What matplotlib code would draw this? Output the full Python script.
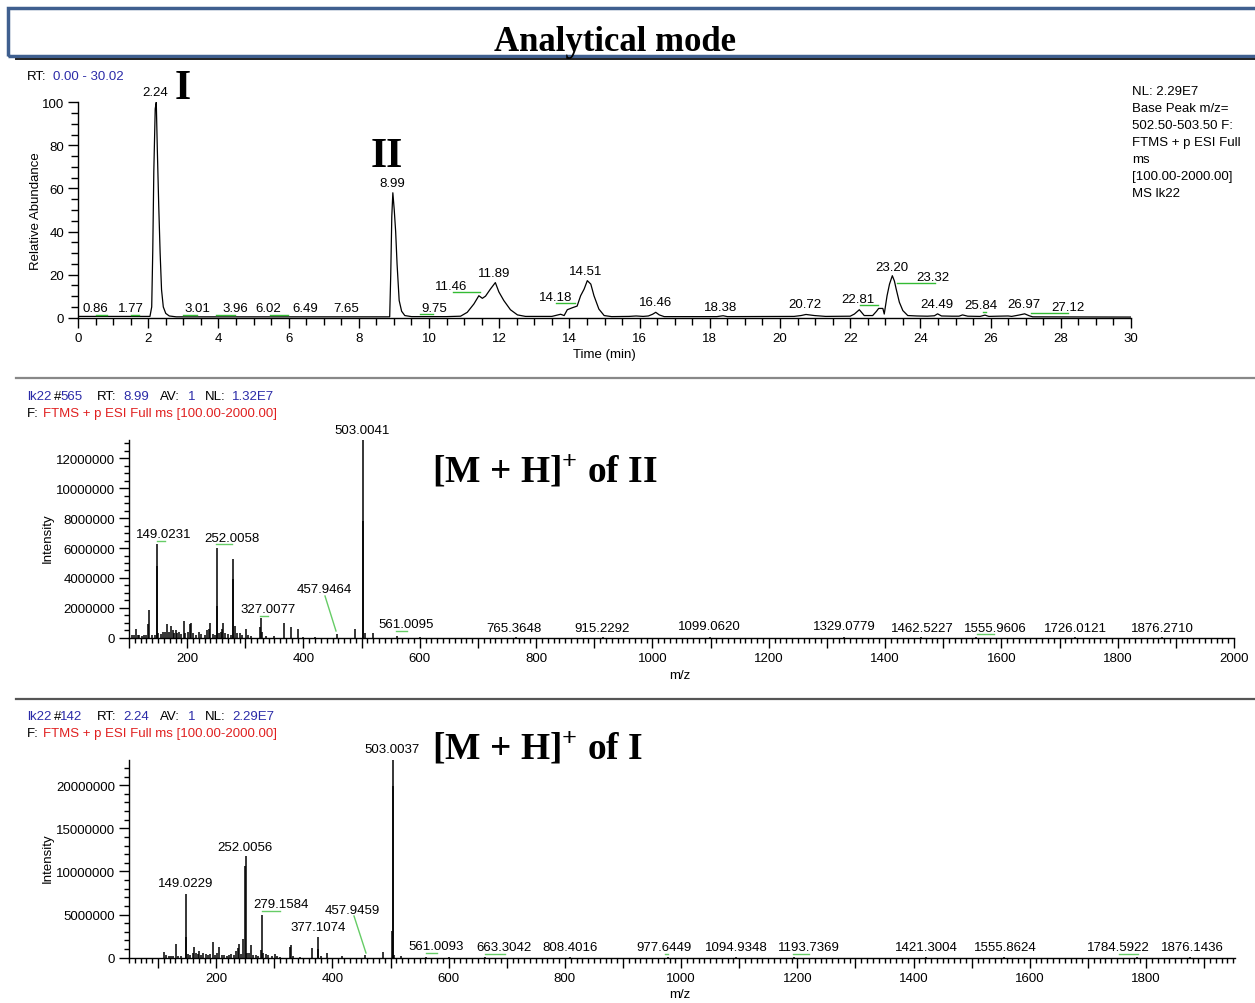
import matplotlib
matplotlib.use('Agg')
import matplotlib.pyplot as plt
from matplotlib.ticker import MultipleLocator, FuncFormatter
from matplotlib.lines import Line2D
from matplotlib.patches import Rectangle

# ---------------- DATA ----------------
chrom_time = [0.00, 0.5, 1.0, 1.5, 2.05, 2.10, 2.13, 2.16, 2.20, 2.23, 2.26, 2.30, 2.34, 2.38, 2.43, 2.50,
              2.60, 2.80, 3.0, 4.0, 5.0, 6.0, 7.0, 8.0, 8.88, 8.91, 8.94, 8.97, 9.01, 9.05, 9.09, 9.15,
              9.22, 9.31, 9.5, 10.0, 10.5, 10.9, 11.09, 11.28, 11.42, 11.52, 11.61, 11.75, 11.89, 11.99,
              12.13, 12.32, 12.52, 12.75, 13.5, 13.75, 13.85, 13.94, 14.08, 14.22, 14.32, 14.42, 14.51,
              14.61, 14.70, 14.84, 14.99, 15.2, 15.7, 15.9, 16.1, 16.25, 16.37, 16.46, 16.56, 16.7, 17.5,
              18.2, 18.38, 18.5, 20.4, 20.6, 20.74, 20.98, 21.3, 22.0, 22.12, 22.26, 22.40, 22.64, 22.75,
              22.81, 22.93, 22.97, 23.05, 23.12, 23.20, 23.26, 23.31, 23.40, 23.50, 23.64, 23.9, 24.2,
              24.4, 24.49, 24.6, 24.9, 25.1, 25.2, 25.35, 25.7, 25.84, 25.95, 26.2, 26.5, 26.6, 26.8,
              26.97, 27.1, 27.2, 30.0]
chrom_abund = [0.6, 0.6, 0.6, 0.6, 0.6, 5, 31, 68, 97, 100, 78, 52, 30, 13, 5, 2,
               0.8, 0.4, 0.4, 0.4, 0.4, 0.4, 0.4, 0.4, 0.4, 20, 47, 58, 50, 40, 25, 8,
               3, 1, 0.5, 0.5, 0.5, 0.7, 2.5, 6.4, 10.2, 9.0, 10, 13.3, 16.3, 12,
               8, 3.7, 1.3, 0.6, 0.6, 1.6, 1.0, 3.7, 4.6, 5.4, 10.2, 13.3, 17.2,
               15.6, 10.2, 4.0, 1.0, 0.5, 0.6, 0.8, 0.6, 0.8, 1.6, 2.5, 1.3, 0.5, 0.5,
               0.5, 0.9, 0.5, 0.6, 1.0, 1.5, 1.0, 0.6, 0.7, 1.7, 3.7, 1.0, 1.0, 3.0,
               4.3, 4.3, 1.7, 10.2, 15.6, 19.5, 17, 13.3, 7.2, 3.3, 1.0, 0.8, 0.7,
               0.9, 1.8, 0.8, 0.7, 0.7, 1.3, 0.7, 0.6, 1.2, 0.6, 0.7, 0.8, 0.6, 1.2,
               1.8, 0.9, 0.4, 0.3]

# chromatogram peak labels: text and pixel position (centre)
chrom_labels = ['0.86', '1.77', '2.24', '3.01', '3.96', '6.02', '6.49', '7.65', '8.99', '9.75',
                '11.46', '11.89', '14.18', '14.51', '16.46', '18.38', '20.72', '22.81', '23.20',
                '23.32', '24.49', '25.84', '26.97', '27.12']
chrom_label_px = [95, 131, 155, 197, 235, 268, 305, 346, 392, 434, 451, 494, 556, 586, 656, 721, 805,
                  858, 892, 933, 937, 981, 1024, 1068]
chrom_label_py = [309, 309, 93, 309, 309, 309, 309, 309, 184, 309, 287, 274, 298, 272, 303, 308, 305,
                  300, 268, 278, 305, 306, 305, 308]
chrom_green = [(96, 107, 316), (131, 139, 316), (183, 197, 316), (216, 235, 316), (270, 288, 316),
               (420, 433, 315), (453, 480, 293), (556, 575, 304), (860, 878, 306), (897, 935, 284),
               (983, 986, 313), (1031, 1068, 314)]

# spectrum 1 (RT 8.99), intensity in counts
ms1_mz = [105, 108, 112, 115, 118, 122, 126, 130, 133, 134, 140, 145, 148.5, 149.0, 150.5, 155, 158,
          162, 165, 168, 172, 175, 178, 180, 183, 186, 190, 195, 197, 202, 205, 207, 210, 215, 220,
          224, 230, 234, 237, 240, 244, 248, 251.5, 252.0, 254, 258, 260, 262, 265, 270, 275, 279.0,
          279.5, 282, 285, 290, 295, 302, 305, 310, 326, 327, 329, 335, 350, 367, 379, 391, 400, 420,
          457.9, 489, 502.5, 503.0, 505, 520, 561, 600, 765.4, 915.2, 1099.1, 1329.1, 1462.5, 1556.0,
          1726.0, 1876.3]
ms1_int = [0.15e6, 0.2e6, 0.6e6, 0.2e6, 0.15e6, 0.1e6, 0.15e6, 0.2e6, 0.9e6, 1.87e6, 0.2e6, 0.15e6,
           4.8e6, 6.27e6, 0.3e6, 0.25e6, 0.35e6, 0.4e6, 0.95e6, 0.4e6, 0.75e6, 0.5e6, 0.3e6, 0.5e6,
           0.3e6, 0.4e6, 0.25e6, 1.15e6, 0.3e6, 0.4e6, 0.9e6, 1.0e6, 0.3e6, 0.15e6, 0.35e6, 0.25e6,
           0.2e6, 0.5e6, 0.6e6, 1.0e6, 0.25e6, 0.2e6, 2.1e6, 6.0e6, 0.3e6, 0.4e6, 0.6e6, 1.0e6, 0.3e6,
           0.25e6, 0.2e6, 3.9e6, 5.26e6, 0.8e6, 0.3e6, 0.3e6, 0.2e6, 0.55e6, 0.2e6, 0.1e6, 0.7e6,
           1.3e6, 0.4e6, 0.1e6, 0.1e6, 0.98e6, 0.7e6, 0.55e6, 0.05e6, 0.05e6, 0.25e6, 0.55e6, 7.8e6,
           13.2e6, 0.3e6, 0.3e6, 0.12e6, 0.05e6, 0.03e6, 0.03e6, 0.02e6, 0.03e6, 0.02e6, 0.02e6,
           0.02e6, 0.02e6]
ms1_labels = ['503.0041', '149.0231', '252.0058', '327.0077', '457.9464', '561.0095', '765.3648',
              '915.2292', '1099.0620', '1329.0779', '1462.5227', '1555.9606', '1726.0121', '1876.2710']
ms1_label_px = [362, 164, 232, 268, 324, 406, 514, 602, 709, 844, 922, 995, 1075, 1162]
ms1_label_py = [431, 535, 539, 610, 590, 625, 629, 629, 627, 627, 629, 629, 629, 629]
ms1_green = [((157, 542), (165, 542)), ((216, 545), (232, 545)), ((260, 617), (268, 617)),
             ((325, 597), (336, 632)), ((396, 632), (407, 632)), ((977, 635), (994, 635))]

# spectrum 2 (RT 2.24)
ms2_mz = [111, 114, 118, 122, 126, 130.7, 135, 140, 148, 148.5, 151, 155, 160, 162, 165, 168, 171,
          174, 178, 182, 186, 190, 194, 198, 202, 205, 210, 214, 218, 222, 226, 230, 234, 237, 239,
          243, 247, 250.0, 250.5, 253, 257, 259.7, 263, 268, 272, 277.5, 278, 281, 285, 290, 296,
          301.5, 305, 310, 327, 328.5, 332, 345, 364.6, 375, 375.5, 380, 391.5, 417.3, 456, 487.8,
          502, 503.5, 504, 506, 518.3, 561, 600, 663.3, 808.4, 977.6, 1094.9, 1193.7, 1421.3,
          1555.9, 1784.6, 1876.1]
ms2_int = [0.62e6, 0.3e6, 0.2e6, 0.15e6, 0.2e6, 1.58e6, 0.2e6, 0.2e6, 2.35e6, 7.38e6, 0.4e6, 0.3e6,
           0.5e6, 1.27e6, 0.6e6, 0.4e6, 0.73e6, 0.3e6, 0.6e6, 0.4e6, 0.3e6, 0.4e6, 1.78e6, 0.3e6,
           0.5e6, 1.2e6, 0.3e6, 0.3e6, 0.25e6, 0.3e6, 0.4e6, 0.35e6, 0.8e6, 1.1e6, 1.58e6, 0.4e6,
           2.2e6, 10.6e6, 11.8e6, 0.5e6, 0.6e6, 1.47e6, 0.3e6, 0.3e6, 0.25e6, 0.9e6, 4.98e6, 0.5e6,
           0.4e6, 0.3e6, 0.25e6, 0.39e6, 0.2e6, 0.1e6, 1.2e6, 1.47e6, 0.2e6, 0.1e6, 1.08e6, 1.0e6,
           2.36e6, 0.2e6, 0.54e6, 0.23e6, 0.3e6, 0.62e6, 3.1e6, 19.85e6, 22.9e6, 0.3e6, 0.23e6,
           0.1e6, 0.05e6, 0.04e6, 0.03e6, 0.03e6, 0.03e6, 0.04e6, 0.03e6, 0.03e6, 0.04e6, 0.03e6]
ms2_labels = ['503.0037', '149.0229', '252.0056', '279.1584', '377.1074', '457.9459', '561.0093',
              '663.3042', '808.4016', '977.6449', '1094.9348', '1193.7369', '1421.3004', '1555.8624',
              '1784.5922', '1876.1436']
ms2_label_px = [392, 186, 245, 281, 318, 352, 436, 504, 570, 664, 736, 809, 926, 1005, 1118, 1192]
ms2_label_py = [750, 884, 848, 905, 928, 911, 947, 948, 948, 948, 948, 948, 948, 948, 948, 948]
ms2_green = [((262, 912), (280, 912)), ((354, 917), (366, 954)), ((426, 954), (437, 954)),
             ((485, 955), (505, 955)), ((665, 955), (668, 955)), ((793, 955), (809, 955)),
             ((1119, 955), (1138, 955))]

nl_lines = ['NL: 2.29E7', 'Base Peak m/z=', '502.50-503.50 F:', 'FTMS + p ESI Full', 'ms',
            '[100.00-2000.00]', 'MS lk22']

# ---------------- FIGURE ----------------
plt.rcParams['font.family'] = ['Liberation Sans', 'DejaVu Sans']
plt.rcParams['mathtext.fontset'] = 'custom'
plt.rcParams['mathtext.rm'] = 'Liberation Serif:bold'
plt.rcParams['mathtext.it'] = 'Liberation Serif:bold'
plt.rcParams['mathtext.bf'] = 'Liberation Serif:bold'

W, H = 1255, 1004
fig = plt.figure(figsize=(W / 100, H / 100), dpi=100)
fig.patch.set_facecolor('white')

BLUE = '#2b2ba8'
RED = '#e02020'
GREEN = '#33bb33'
FS = 9.5


def P(px, py):
    return (px / W, 1 - py / H)


def axrect(l, t, r, b):
    return [l / W, 1 - b / H, (r - l) / W, (b - t) / H]


def ftext(px, py, s, **kw):
    x, y = P(px, py)
    kw.setdefault('fontsize', FS)
    kw.setdefault('ha', 'center')
    kw.setdefault('va', 'center')
    return fig.text(x, y, s, **kw)


def fline(p1, p2, **kw):
    (x1, y1), (x2, y2) = P(*p1), P(*p2)
    fig.add_artist(Line2D([x1, x2], [y1, y2], transform=fig.transFigure, **kw))


# header box
x0, y0 = P(8, 57)
fig.add_artist(Rectangle((x0, y0), (1262 - 8) / W, 48 / H, transform=fig.transFigure,
                         fill=False, edgecolor='#3f5f8f', lw=2.5, clip_on=False))
fline((16, 60), (1255, 60), color='#222222', lw=1.4)
ftext(615, 51, 'Analytical mode', fontsize=25, fontweight='bold', family='Liberation Serif',
      va='baseline')

# separators
fline((16, 379), (1255, 379), color='#888888', lw=1.6)
fline((16, 700), (1255, 700), color='#555555', lw=1.6)


def style_axis(ax):
    for s in ['top', 'right']:
        ax.spines[s].set_visible(False)
    for s in ['left', 'bottom']:
        ax.spines[s].set_linewidth(1.0)
    ax.set_facecolor('none')


# ---------- chromatogram ----------
axc = fig.add_axes(axrect(78, 103.3, 1131, 318.7))
style_axis(axc)
axc.plot(chrom_time, chrom_abund, color='black', lw=0.9)
axc.set_xlim(0, 30)
axc.set_ylim(0, 100)
axc.xaxis.set_major_locator(MultipleLocator(2))
axc.xaxis.set_minor_locator(MultipleLocator(0.5))
axc.yaxis.set_major_locator(MultipleLocator(20))
axc.yaxis.set_minor_locator(MultipleLocator(5))
axc.tick_params(axis='both', which='major', length=7, width=1, labelsize=FS, pad=3)
axc.tick_params(axis='both', which='minor', length=5, width=1)

ftext(27, 77, 'RT:', ha='left')
ftext(53, 77, '0.00 - 30.02', ha='left', color=BLUE)
ftext(36, 211, 'Relative Abundance', rotation=90)
ftext(604, 355, 'Time (min)')
for s, px, py in zip(chrom_labels, chrom_label_px, chrom_label_py):
    ftext(px, py, s)
for a, b, py in chrom_green:
    fline((a, py), (b, py), color=GREEN, lw=1.0)
for i, s in enumerate(nl_lines):
    ftext(1132, 92 + i * 17, s, ha='left')
ftext(183, 89, 'I', fontsize=30, fontweight='bold', family='Liberation Serif')
ftext(387, 157, 'II', fontsize=30, fontweight='bold', family='Liberation Serif')


# ---------- spectra ----------
def spectrum(rect, mz, inten, xlim, ylim, ymaj, ymin, header_y, scan, rt, nl,
             labels, lpx, lpy, greens, title, title_y, ylab_y, xlab_y):
    ax = fig.add_axes(axrect(*rect))
    style_axis(ax)
    ax.vlines(mz, 0, inten, color='black', lw=1.1)
    ax.set_xlim(*xlim)
    ax.set_ylim(*ylim)
    ax.xaxis.set_major_locator(MultipleLocator(100))
    ax.xaxis.set_minor_locator(MultipleLocator(10))
    ax.xaxis.set_major_formatter(FuncFormatter(lambda v, p: f'{int(round(v))}' if round(v) % 200 == 0 else ''))
    ax.yaxis.set_major_locator(MultipleLocator(ymaj))
    ax.yaxis.set_minor_locator(MultipleLocator(ymin))
    ax.yaxis.set_major_formatter(FuncFormatter(lambda v, p: f'{int(round(v))}'))
    ax.tick_params(axis='both', which='major', length=7, width=1, labelsize=FS, pad=3)
    ax.tick_params(axis='both', which='minor', length=3.5, width=1)
    # header
    ftext(27, header_y, 'lk22', ha='left', color=BLUE)
    ftext(54, header_y, '#', ha='left')
    ftext(60, header_y, scan, ha='left', color=BLUE)
    ftext(97, header_y, 'RT:', ha='left')
    ftext(123, header_y, rt, ha='left', color=BLUE)
    ftext(160, header_y, 'AV:', ha='left')
    ftext(188, header_y, '1', ha='left', color=BLUE)
    ftext(205, header_y, 'NL:', ha='left')
    ftext(232, header_y, nl, ha='left', color=BLUE)
    ftext(27, header_y + 17, 'F:', ha='left')
    ftext(43, header_y + 17, 'FTMS + p ESI Full ms [100.00-2000.00]', ha='left', color=RED)
    ftext(48, ylab_y, 'Intensity', rotation=90)
    ftext(680, xlab_y, 'm/z')
    for s, px, py in zip(labels, lpx, lpy):
        ftext(px, py, s)
    for p1, p2 in greens:
        fline(p1, p2, color='#66cc66', lw=1.0)
    ftext(432, title_y, title, ha='left', fontsize=27, fontweight='bold', family='Liberation Serif')
    return ax


spectrum((129, 440.7, 1234, 638.7), ms1_mz, ms1_int, (100, 2000), (0, 1.325e7), 2e6, 5e5,
         397, '565', '8.99', '1.32E7', ms1_labels, ms1_label_px, ms1_label_py, ms1_green,
         '[M + H]$^{+}$ of II', 472, 538, 676)
spectrum((129, 760.7, 1235, 958.7), ms2_mz, ms2_int, (50, 1953), (0, 2.295e7), 5e6, 1e6,
         717, '142', '2.24', '2.29E7', ms2_labels, ms2_label_px, ms2_label_py, ms2_green,
         '[M + H]$^{+}$ of I', 749, 858, 995)

fig.savefig('out.png', dpi=100)
